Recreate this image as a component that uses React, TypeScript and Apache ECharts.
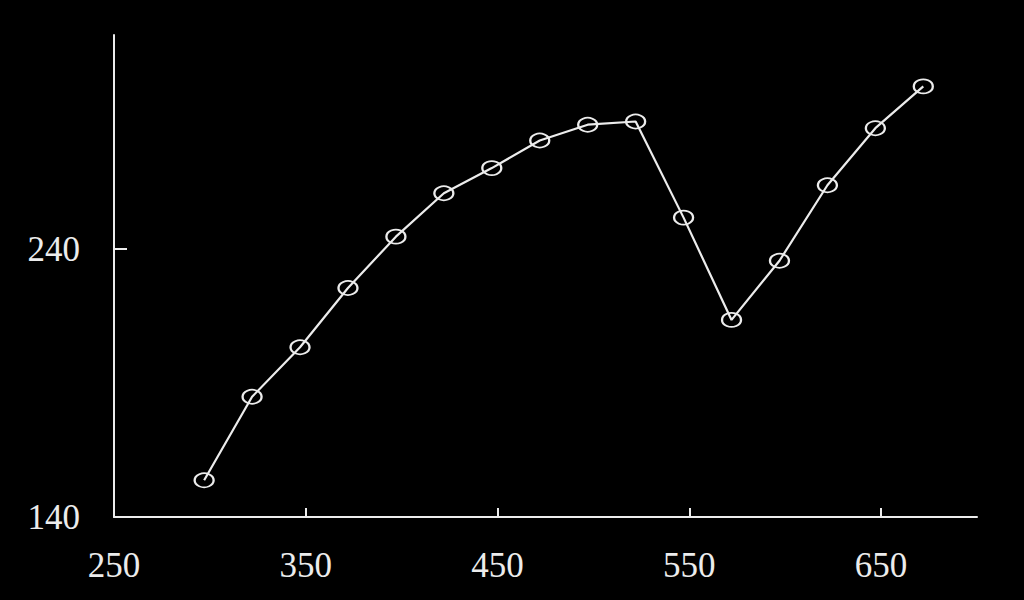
import React, { useEffect, useRef } from "react";
import * as echarts from "echarts";

const xValues = [297, 322, 347, 372, 397, 422, 447, 472, 497, 522, 547, 572, 597, 622, 647, 672];
const yValues = [153.7, 184.9, 203.4, 225.5, 244.7, 260.9, 270.3, 280.6, 286.5, 287.7, 251.8, 213.6, 235.7, 263.9, 285.2, 300.8];
const xTickLabels = [250, 350, 450, 550, 650];
const yTickLabels = [140, 240];

const FG = "#ececec";
const FONT = "'Liberation Serif', 'Times New Roman', serif";

export default function App() {
  const ref = useRef<HTMLDivElement>(null);
  useEffect(() => {
    document.body.style.margin = "0";
    document.body.style.background = "#000";
    const chart = echarts.init(ref.current!, null, { renderer: "svg" });
    chart.setOption({
      animation: false,
      backgroundColor: "#000",
      grid: { left: 114, right: 47, top: 35, bottom: 83, containLabel: false },
      xAxis: {
        type: "value",
        min: 250,
        max: 700,
        axisLine: { show: true, lineStyle: { color: FG, width: 2 } },
        axisTick: {
          show: true,
          inside: true,
          length: 9,
          customValues: xTickLabels.slice(1),
          lineStyle: { color: FG, width: 2 },
        },
        axisLabel: {
          show: true,
          customValues: xTickLabels,
          color: FG,
          fontFamily: FONT,
          fontSize: 35,
          margin: 31,
        },
        splitLine: { show: false },
      },
      yAxis: {
        type: "value",
        min: 140,
        max: 320,
        axisLine: { show: true, lineStyle: { color: FG, width: 2 } },
        axisTick: {
          show: true,
          inside: true,
          length: 13,
          customValues: [yTickLabels[1]],
          lineStyle: { color: FG, width: 2 },
        },
        axisLabel: {
          show: true,
          customValues: yTickLabels,
          color: FG,
          fontFamily: FONT,
          fontSize: 35,
          margin: 34,
          padding: [10, 0, 0, 0],
        },
        splitLine: { show: false },
      },
      series: [
        {
          type: "line",
          data: xValues.map((x, i) => [x, yValues[i]]),
          symbol: "circle",
          symbolSize: [19, 14],
          showAllSymbol: true,
          lineStyle: { color: FG, width: 2.2 },
          itemStyle: { color: "transparent", borderColor: FG, borderWidth: 2 },
          z: 3,
        },
      ],
    });
    return () => chart.dispose();
  }, []);
  return (
    <div
      ref={ref}
      style={{ position: "fixed", left: 0, top: 0, width: 1024, height: 600, background: "#000" }}
    />
  );
}
